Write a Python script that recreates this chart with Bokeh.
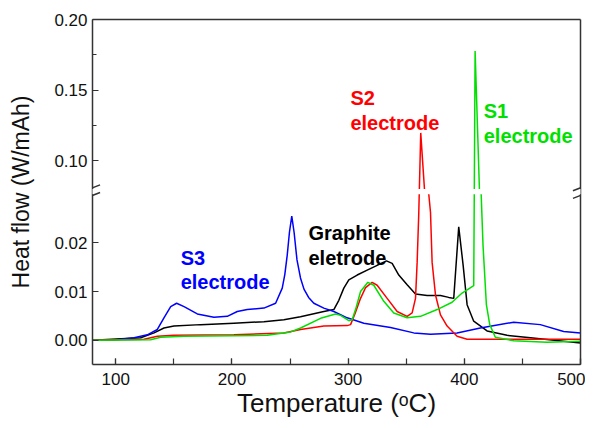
from bokeh.plotting import figure
from bokeh.models import (ColumnDataSource, CustomJSTransform, CustomJSTickFormatter,
                          FixedTicker, SingleIntervalTicker, LinearAxis, Range1d,
                          BoxAnnotation, Arrow, Label)
from bokeh.transform import transform
from bokeh.embed import file_html
from bokeh.resources import INLINE

# ---------------- data ----------------
s3_temp = [80, 100, 115.8, 127.2, 135.8, 141.5, 147.3, 152.4, 158.8, 170.2, 184.5, 196, 204.6,
           213.2, 227.5, 237.6, 243.3, 245.5, 247.6, 249.5, 251.5, 253.5, 256, 259, 262, 266,
           270.5, 279.1, 287.7, 299.2, 313.5, 336.5, 356.5, 370.9, 393.8, 413.8, 442.5, 465.4,
           485.5, 500]
s3_heat = [0.0000, 0.0001, 0.0005, 0.0011, 0.0022, 0.0046, 0.0069, 0.0076, 0.0069, 0.0054, 0.0047,
           0.0049, 0.0059, 0.0063, 0.0066, 0.0076, 0.0107, 0.0135, 0.0175, 0.0222, 0.0255, 0.0222,
           0.0165, 0.0128, 0.0105, 0.0088, 0.0076, 0.0066, 0.0059, 0.0046, 0.0035, 0.0026, 0.0015,
           0.0012, 0.0015, 0.0025, 0.0037, 0.0032, 0.0018, 0.0015]

gr_temp = [80, 121.5, 133, 141.5, 150.1, 173.1, 201.7, 227.5, 244.7, 259, 279.1, 287.7, 292,
           296.3, 300.6, 307.8, 316.4, 325, 333, 337.9, 343.6, 350.8, 358, 368, 379.5, 386.6,
           390.9, 395.2, 399, 402.4, 408.1, 419.6, 436.8, 456.9, 485.5, 500]
gr_heat = [0.0000, 0.0005, 0.0015, 0.0025, 0.0029, 0.0032, 0.0035, 0.0038, 0.0042, 0.0048, 0.0059,
           0.0063, 0.0082, 0.0107, 0.0124, 0.0134, 0.0144, 0.0154, 0.0163, 0.0158, 0.0134, 0.0114,
           0.0095, 0.0092, 0.0092, 0.0088, 0.0086, 0.0233, 0.0154, 0.0073, 0.0039, 0.0019, 0.0010,
           0.0005, -0.0002, -0.0006]

s2_temp = [80, 124.4, 135.8, 150.1, 201.7, 244.7, 259.1, 279.1, 299.2, 302.1, 306, 310.7, 315,
           320.7, 325, 333.6, 342.2, 350.8, 355.1, 358, 359.4, 360.8, 362.5, 365.7, 369.4, 370.9,
           372.3, 375.2, 379.5, 385.2, 393.8, 402.4, 442.5, 500]
s2_heat = [0.0000, 0.0002, 0.0008, 0.0010, 0.0011, 0.0015, 0.0022, 0.0029, 0.0030, 0.0032, 0.0055,
           0.0086, 0.0108, 0.0119, 0.0113, 0.0086, 0.0059, 0.0049, 0.0056, 0.0086, 0.0160, 0.0260,
           0.1197, 0.0800, 0.0330, 0.0263, 0.0160, 0.0093, 0.0052, 0.0029, 0.0008, 0.0002, 0.0002,
           0.0002]

s1_temp = [80, 130, 138.7, 158.8, 230.4, 250.5, 259.1, 276.3, 289.2, 293.5, 300.6, 303.5, 307,
           310.7, 317, 322.1, 330.7, 339.3, 350.8, 362.3, 376.6, 389.5, 398.1, 408.1, 409.3, 413.0,
           414.5, 416.1, 419, 421.9, 426.7, 442.5, 471.2, 500]
s1_heat = [0.0000, 0.0001, 0.0006, 0.0008, 0.0010, 0.0017, 0.0025, 0.0045, 0.0054, 0.0051, 0.0040,
           0.0042, 0.0068, 0.0100, 0.0119, 0.0113, 0.0080, 0.0056, 0.0046, 0.0049, 0.0063, 0.0078,
           0.0097, 0.0112, 0.1777, 0.0800, 0.0330, 0.0195, 0.0073, 0.0032, 0.0006, -0.0001,
           -0.0004, -0.0002]

y_tick_values = [0.00, 0.01, 0.02, 0.10, 0.15, 0.20]
y_minor_values = [0.125, 0.175]

# ---------------- broken y axis mapping ----------------
BREAK_LO = 0.030     # top of the lower segment
BREAK_HI = 0.080     # bottom of the upper segment
DISP_HI = 0.0311     # display position of BREAK_HI
RATIO = 0.2904       # upper-segment scale relative to lower


def fwd(v):
    if v <= BREAK_LO:
        return v
    if v >= BREAK_HI:
        return DISP_HI + (v - BREAK_HI) * RATIO
    return BREAK_LO + (v - BREAK_LO) * (DISP_HI - BREAK_LO) / (BREAK_HI - BREAK_LO)


args = dict(lo=BREAK_LO, hi=BREAK_HI, dhi=DISP_HI, r=RATIO)
ytr = CustomJSTransform(args=args, func="""
    if (x <= lo) return x;
    if (x >= hi) return dhi + (x - hi) * r;
    return lo + (x - lo) * (dhi - lo) / (hi - lo);
""", v_func="""
    const out = new Array(xs.length);
    for (let i = 0; i < xs.length; i++) {
      const x = xs[i];
      if (x <= lo) out[i] = x;
      else if (x >= hi) out[i] = dhi + (x - hi) * r;
      else out[i] = lo + (x - lo) * (dhi - lo) / (hi - lo);
    }
    return out;
""")

FONT = "Liberation Sans"
AX = "#333333"

p = figure(width=585, height=420, output_backend="svg", toolbar_location=None,
           x_range=Range1d(80, 500), y_range=Range1d(-0.005, fwd(0.20)),
           min_border_left=92, min_border_right=5, min_border_top=19, min_border_bottom=55)
p.outline_line_color = None
p.xgrid.visible = False
p.ygrid.visible = False
p.background_fill_color = "white"
p.border_fill_color = "white"

series = [(gr_temp, gr_heat, "#000000"), (s3_temp, s3_heat, "#0000ff"),
          (s2_temp, s2_heat, "#ff0000"), (s1_temp, s1_heat, "#00e000")]
for xs, ys, col in series:
    src = ColumnDataSource(dict(x=xs, y=ys))
    p.line(x="x", y=transform("y", ytr), source=src, line_color=col, line_width=1.5)

# axes
xa = p.xaxis[0]
ya = p.yaxis[0]
xa.ticker = SingleIntervalTicker(interval=100, num_minor_ticks=2)
ya.ticker = FixedTicker(ticks=[fwd(v) for v in y_tick_values],
                        minor_ticks=[fwd(v) for v in y_minor_values])
ya.formatter = CustomJSTickFormatter(args=args, code="""
    const v = tick <= lo + 1e-9 ? tick : hi + (tick - dhi) / r;
    return v.toFixed(2);
""")
xa.axis_label = "Temperature (\u1d52C)"
ya.axis_label = "Heat flow (W/mAh)"
for ax in (xa, ya):
    ax.axis_line_color = AX
    ax.axis_line_width = 1.5
    ax.major_tick_in = 6
    ax.major_tick_out = 0
    ax.minor_tick_in = 4
    ax.minor_tick_out = 0
    ax.major_tick_line_color = AX
    ax.minor_tick_line_color = AX
    ax.major_tick_line_width = 1.2
    ax.minor_tick_line_width = 1.2
    ax.major_label_text_font = FONT
    ax.major_label_text_font_size = "17px"
    ax.major_label_text_color = "#111111"
    ax.axis_label_text_font = FONT
    ax.axis_label_text_font_style = "normal"
    ax.axis_label_text_color = "#111111"
xa.axis_label_text_font_size = "26px"
ya.axis_label_text_font_size = "23px"
xa.minor_tick_in = 6
xa.major_label_standoff = 8
xa.axis_label_standoff = 0
ya.major_label_standoff = 5
ya.axis_label_standoff = 17

for loc in ("right", "above"):
    ax = LinearAxis(ticker=FixedTicker(ticks=[]), axis_line_color=AX, axis_line_width=1.5,
                    major_tick_line_color=None, minor_tick_line_color=None,
                    major_label_text_font_size="0px")
    p.add_layout(ax, loc)

# break band and break marks
p.add_layout(BoxAnnotation(bottom=BREAK_LO, top=DISP_HI, left=77, right=503,
                           fill_color="white", fill_alpha=1.0, line_color=None))
mid = (BREAK_LO + DISP_HI) / 2
for xc in (80, 500):
    for off in (-0.00078, 0.00078):
        p.add_layout(Arrow(end=None, x_start=xc - 6.5, y_start=mid + off - 0.0006,
                           x_end=xc + 6.5, y_end=mid + off + 0.0006,
                           line_color=AX, line_width=1.5))

# labels
labels = [("S3", 155.9, 0.0168, "#0000ff"), ("electrode", 155.9, 0.0119, "#0000ff"),
          ("Graphite", 265.9, 0.0220, "#000000"), ("eletrode", 265.9, 0.0168, "#000000"),
          ("S2", 302.0, 0.0498, "#ff0000"), ("electrode", 302.0, 0.0447, "#ff0000"),
          ("S1", 416.7, 0.0471, "#00e000"), ("electrode", 416.7, 0.0420, "#00e000")]
for txt, lx, ly, col in labels:
    p.add_layout(Label(x=lx, y=ly, text=txt, text_font=FONT, text_font_style="bold",
                       text_font_size="20px", text_color=col, text_baseline="alphabetic"))

open("out.html", "w").write(file_html(p, INLINE))
